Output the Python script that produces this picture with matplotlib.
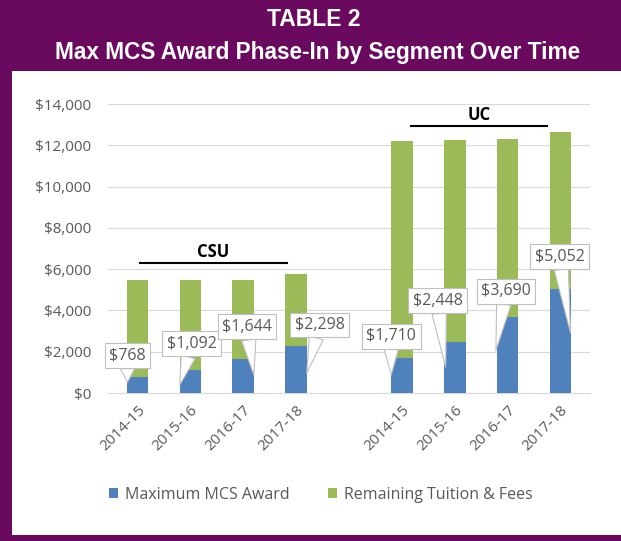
import matplotlib.pyplot as plt
import numpy as np
from matplotlib.patches import Rectangle

# data
years = ["2014-15", "2015-16", "2016-17", "2017-18"]
csu_award = [768, 1092, 1644, 2298]
csu_total = [5472, 5472, 5472, 5742]
uc_award = [1710, 2448, 3690, 5052]
uc_total = [12192, 12240, 12294, 12630]

BLUE = "#4F81BD"
GREEN = "#9BBB59"
PURPLE = "#6A0A5E"
GRAY = "#595959"

# callout placement: tip (slot offset, fraction of award), box offset in points
csu_tips = [(-0.19, 0.69), (-0.2, 0.36), (0.2, 0.53), (0.2, 0.42)]
uc_tips = [(-0.2, 0.51), (-0.17, 0.51), (-0.22, 0.56), (0.19, 0.58)]
csu_boxes = [(0, 19), (8.6, 29.5), (-5, 34.6), (9.4, 34.6)]
uc_boxes = [(0, 28), (-5.8, 48), (7.2, 42.5), (-7.9, 54.7)]

fig = plt.figure(figsize=(6.21, 5.41), dpi=100)
fig.patch.set_facecolor(PURPLE)

# white inner panel
fig.add_artist(Rectangle((12 / 621, 6 / 541), 1 - 12 / 621, (541 - 6 - 71) / 541,
                         transform=fig.transFigure, facecolor="white",
                         edgecolor="none", zorder=0))

fig.text(0.505, 1 - 20 / 541, "TABLE 2", color="white", fontsize=16.5,
         fontweight="bold", ha="center", va="center", family="Liberation Sans")
fig.text(0.511, 1 - 52 / 541, "Max MCS Award Phase-In by Segment Over Time",
         color="white", fontsize=16.3, fontweight="bold", ha="center",
         va="center", family="Liberation Sans")

ax = fig.add_axes([108 / 621, 1 - 393 / 541, 482 / 621, 289 / 541])

awards = csu_award + [0] + uc_award
totals = csu_total + [0] + uc_total
remaining = [t - a for t, a in zip(totals, awards)]
labels = years + [""] + years
x = np.arange(len(awards))
mask = [i for i in x if totals[i] > 0]

width = 0.41
ax.bar([x[i] for i in mask], [awards[i] for i in mask], width, color=BLUE,
       zorder=3, label="Maximum MCS Award")
ax.bar([x[i] for i in mask], [remaining[i] for i in mask], width,
       bottom=[awards[i] for i in mask], color=GREEN, zorder=3,
       label="Remaining Tuition & Fees")

ax.set_xlim(-0.56, len(awards) - 0.44)
ax.set_ylim(0, 14000)
ax.set_yticks(np.arange(0, 14001, 2000))
ax.set_yticklabels([f"${v:,.0f}" for v in np.arange(0, 14001, 2000)])
ax.set_xticks([x[i] for i in mask])
ax.set_xticklabels([labels[i] for i in mask], rotation=45, ha="right",
                   rotation_mode="anchor")
ax.tick_params(axis="both", length=0, colors=GRAY, labelsize=11)
ax.tick_params(axis="x", pad=7)
ax.tick_params(axis="y", pad=12)
for t in ax.get_xticklabels() + ax.get_yticklabels():
    t.set_family("Open Sans")
ax.grid(axis="y", color="#D9D9D9", linewidth=0.8, zorder=0)
for s in ["top", "right", "left"]:
    ax.spines[s].set_visible(False)
ax.spines["bottom"].set_color("#D9D9D9")

# callout labels
tips = csu_tips + [None] + uc_tips
boxes = csu_boxes + [None] + uc_boxes
for i in mask:
    tx, tf = tips[i]
    ax.annotate(f"${awards[i]:,}", xy=(x[i] + tx, awards[i] * tf),
                xytext=boxes[i], textcoords="offset points",
                ha="center", va="center", fontsize=11.5, color=GRAY,
                family="Open Sans", zorder=5,
                bbox=dict(boxstyle="square,pad=0.28", fc="white",
                          ec="#BFBFBF", lw=0.8),
                arrowprops=dict(arrowstyle="wedge,tail_width=0.9",
                                fc="white", ec="#BFBFBF", lw=0.8,
                                shrinkA=0, shrinkB=0))

# group headers
ax.plot([0.04, 2.83], [6300, 6300], color="black", lw=1.5, zorder=4)
ax.text(1.43, 6400, "CSU", ha="center", va="bottom", fontsize=12,
        fontweight="bold", family="Open Sans")
ax.plot([5.17, 7.75], [12950, 12950], color="black", lw=1.5, zorder=4)
ax.text(6.46, 13050, "UC", ha="center", va="bottom", fontsize=12,
        fontweight="bold", family="Open Sans")
ax.set_facecolor("none")

leg = fig.legend(loc="center", bbox_to_anchor=(0.516, 1 - 495 / 541), ncol=2,
                 frameon=False, handlelength=0.6, handleheight=0.6,
                 columnspacing=2.4, handletextpad=0.4,
                 prop={"family": "Open Sans", "size": 11.5})
for t in leg.get_texts():
    t.set_color(GRAY)

fig.savefig("out.png", dpi=100, facecolor=fig.get_facecolor())
